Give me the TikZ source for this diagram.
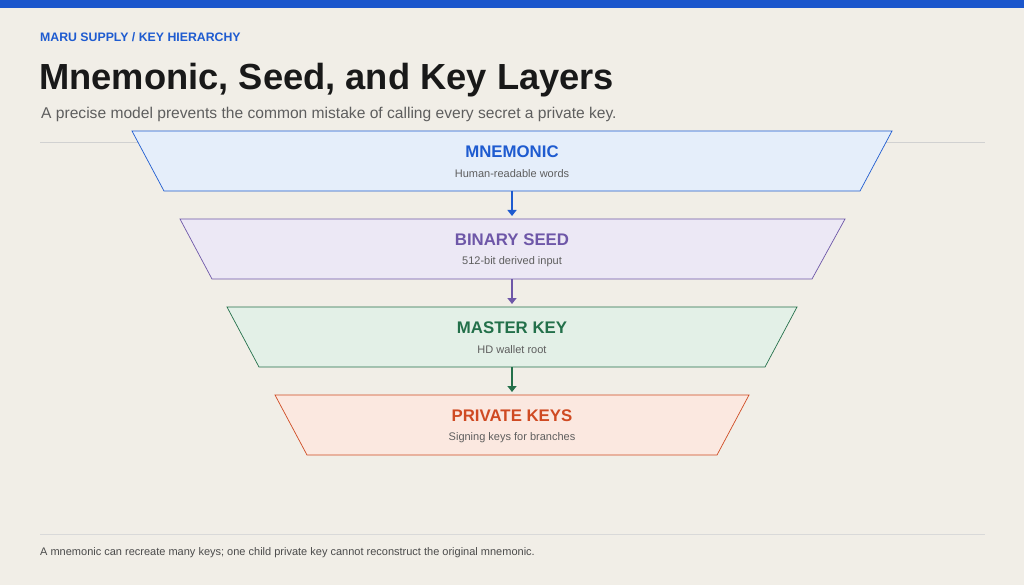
\documentclass[tikz,border=0pt]{standalone}
\usepackage{fontspec}
\setmainfont{Liberation Sans}
\usetikzlibrary{arrows.meta}
\definecolor{bg}{HTML}{F1EEE7}
\definecolor{topb}{HTML}{1A56CC}
\definecolor{c1}{HTML}{1E5BD0}\definecolor{f1}{HTML}{E5EEFA}
\definecolor{c2}{HTML}{6E57A8}\definecolor{f2}{HTML}{ECE8F5}
\definecolor{c3}{HTML}{23704A}\definecolor{f3}{HTML}{E3F0E7}
\definecolor{c4}{HTML}{CF4A22}\definecolor{f4}{HTML}{FBE8E0}
\definecolor{sub}{HTML}{5E5E5E}
\begin{document}
\begin{tikzpicture}[x=1pt,y=-1pt,
  ttl/.style={font=\bfseries\fontsize{16.8}{19}\selectfont},
  desc/.style={font=\fontsize{11}{13}\selectfont,text=sub},
  arr/.style={line width=1.8pt,-{Triangle[length=6pt,width=9pt]}}]
\fill[bg] (0,0) rectangle (1024,585);
\useasboundingbox (0,0) rectangle (1024,585);
\fill[topb] (0,0) rectangle (1024,8);
\node[anchor=west,inner sep=0pt,text=c1,font=\bfseries\fontsize{12.3}{14}\selectfont] (hdr) at (40,37) {MARU SUPPLY / KEY HIERARCHY};
\node[anchor=west,inner sep=0pt,text=black!90,font=\bfseries\fontsize{36.3}{40}\selectfont] (title) at (39,80) {Mnemonic, Seed, and Key Layers};
\node[anchor=west,inner sep=0pt,text=sub,font=\fontsize{15.6}{18}\selectfont] (subt) at (41,114) {A precise model prevents the common mistake of calling every secret a private key.};
\draw[black!18,line width=1pt] (40,143) -- (985,143);
\draw[black!15,line width=0.8pt] (40,534) -- (985,534);
\node[anchor=west,inner sep=0pt,text=sub!80!black,font=\fontsize{11}{13}\selectfont] (foot) at (40,553) {A mnemonic can recreate many keys; one child private key cannot reconstruct the original mnemonic.};
% layers
\draw[c1,fill=f1,line width=0.7pt] (132,131) -- (892,131) -- (860,191) -- (164,191) -- cycle;
\draw[c2,fill=f2,line width=0.7pt] (180,219) -- (845,219) -- (812,279) -- (212,279) -- cycle;
\draw[c3,fill=f3,line width=0.7pt] (227,307) -- (797,307) -- (765,367) -- (259,367) -- cycle;
\draw[c4,fill=f4,line width=0.7pt] (275,395) -- (749,395) -- (717,455) -- (307,455) -- cycle;
\node[ttl,text=c1] (l1) at (512,152) {MNEMONIC};
\node[desc] (d1) at (512,174) {Human-readable words};
\node[ttl,text=c2] (l2) at (512,240) {BINARY SEED};
\node[desc] (d2) at (512,262) {512-bit derived input};
\node[ttl,text=c3] (l3) at (512,328) {MASTER KEY};
\node[desc] (d3) at (512,350) {HD wallet root};
\node[ttl,text=c4] (l4) at (512,416) {PRIVATE KEYS};
\node[desc] (d4) at (512,438) {Signing keys for branches};
\coordinate (b1) at (512,191); \coordinate (t2) at (512,216);
\coordinate (b2) at (512,279); \coordinate (t3) at (512,304);
\coordinate (b3) at (512,367); \coordinate (t4) at (512,392);
\draw[arr,c1] (b1) -- (t2);
\draw[arr,c2] (b2) -- (t3);
\draw[arr,c3] (b3) -- (t4);
\end{tikzpicture}
\end{document}
